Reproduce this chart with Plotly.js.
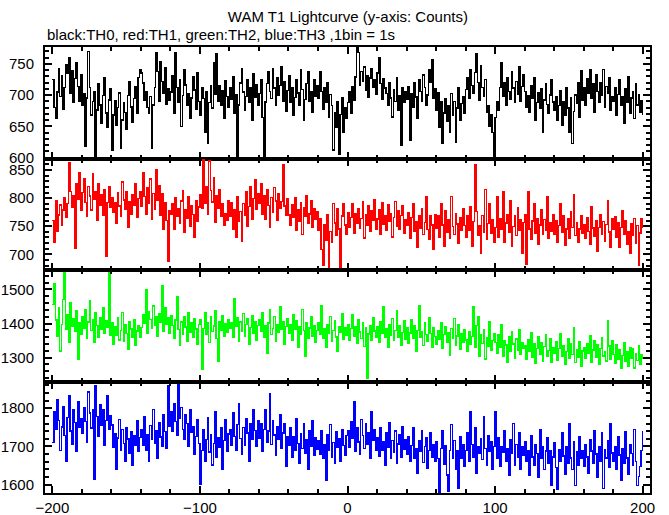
<!DOCTYPE html>
<html>
<head>
<meta charset="utf-8">
<script src="https://cdn.plot.ly/plotly-3.0.1.min.js"></script>
<style>
html,body{margin:0;padding:0;background:#fff;}
#chart{width:669px;height:515px;}
#chart .scatterlayer path{shape-rendering:crispEdges;}
</style>
</head>
<body>
<div id="chart"></div>
<script>
const TITLE = "WAM T1 Lightcurve (y-axis: Counts)";
const SUBTITLE = "black:TH0, red:TH1, green:TH2, blue:TH3 ,1bin = 1s";
const T_START = -200; // seconds, 1 bin = 1 s

const th0 = [
725,680,662,705,742,698,731,677,712,748,735,760,702,739,688,726,751,714,690,733,
683,702,618,695,770,712,668,690,705,602,676,718,684,655,699,727,671,648,692,710,
612,668,691,652,680,703,614,660,688,672,645,699,722,681,657,694,713,670,728,741,
735,719,692,706,680,671,698,615,684,712,768,738,690,754,722,703,744,685,710,692,
705,731,670,768,712,688,724,650,699,741,716,684,702,663,695,729,708,677,736,690,
668,712,694,641,705,622,688,715,679,752,701,766,690,715,684,707,662,723,698,680,
712,693,730,671,701,600,684,719,742,705,676,698,725,688,711,660,734,697,716,683,
702,725,664,602,689,718,737,706,694,742,711,683,728,699,715,746,690,722,674,707,
731,688,712,667,696,725,703,684,741,709,660,693,718,737,690,706,672,724,698,715,
694,738,706,677,712,689,720,665,701,683,612,672,648,690,605,669,695,641,680,662,
688,705,671,714,692,729,775,768,716,738,722,745,708,731,697,727,742,712,724,701,
735,760,718,693,726,711,702,684,720,695,665,708,690,727,676,699,620,712,688,705,
693,714,628,702,681,719,697,662,725,706,690,732,712,684,700,741,721,757,695,710,
676,703,648,689,622,671,694,658,683,640,702,667,690,625,679,712,660,686,698,671,
709,728,694,741,715,702,736,766,720,691,747,712,698,725,672,683,650,668,640,602,
664,690,675,712,752,698,719,684,727,706,693,738,711,688,722,701,745,690,714,732,
706,681,699,672,715,694,727,660,688,703,679,710,641,692,718,685,670,700,724,689,
675,698,660,683,707,652,690,668,712,679,641,695,622,674,700,686,720,664,739,692,
711,684,726,702,740,695,718,673,733,706,689,720,699,741,681,714,702,728,676,697,
690,712,668,701,725,683,697,654,710,688,730,671,695,706,662,718,684,700,673,691,668
];

const th1 = [
760,722,795,741,770,788,752,779,801,766,790,864,812,783,805,711,826,798,845,779,
810,835,792,768,821,804,779,843,798,812,760,825,787,806,770,815,697,792,820,783,
801,774,792,755,810,786,768,829,797,780,812,748,794,771,806,788,826,765,799,812,
785,845,803,772,818,790,834,762,808,781,850,797,822,770,808,745,791,760,688,778,
772,790,745,801,768,782,756,795,813,740,779,764,802,750,786,771,730,795,758,784,
806,782,868,790,820,771,866,814,793,836,757,805,782,815,768,790,752,773,760,795,
768,792,745,780,731,803,758,776,724,790,769,812,750,785,820,763,799,832,781,808,
790,826,772,805,763,815,787,748,801,774,819,795,760,808,782,794,860,786,770,799,
770,752,788,765,801,743,779,758,792,735,783,767,804,756,772,795,748,781,762,776,
742,763,708,680,752,725,770,676,741,722,790,756,733,781,745,677,768,790,752,735,
774,748,765,790,738,772,755,781,746,764,793,729,770,752,786,741,777,760,798,745,
763,779,736,792,754,768,742,788,759,773,731,765,794,750,777,744,769,786,738,761,
752,774,729,765,790,741,758,712,769,746,781,735,757,802,744,726,768,752,709,771,
746,768,731,790,752,715,777,740,761,728,803,749,735,772,754,719,766,742,782,751,
730,768,742,785,715,758,860,776,733,751,702,769,740,815,727,755,790,738,762,721,
748,802,731,764,745,812,722,756,771,739,795,714,750,768,733,783,743,761,701,757,
770,682,812,745,726,759,790,738,764,717,752,780,735,762,742,803,728,756,741,771,
736,760,722,751,790,739,768,716,745,763,729,775,748,806,733,757,722,745,769,738,
752,729,765,741,718,784,747,732,760,705,748,771,736,758,724,753,795,740,712,763,
744,767,730,756,712,748,778,735,760,718,741,702,755,733,764,720,751,680,738,763,746
];

const th2 = [
1455,1518,1410,1362,1445,1320,1398,1470,1548,1382,1425,1345,1460,1392,1415,1377,1438,1295,1402,1368,
1421,1387,1442,1356,1405,1468,1379,1412,1344,1431,1395,1360,1418,1384,1447,1372,1409,1390,1548,1365,
1402,1338,1391,1365,1417,1352,1380,1433,1348,1396,1371,1325,1405,1384,1359,1412,1336,1378,1395,1360,
1388,1425,1402,1498,1370,1436,1411,1385,1452,1394,1420,1363,1430,1405,1510,1377,1445,1398,1416,1372,
1424,1395,1356,1410,1478,1382,1337,1405,1368,1421,1390,1348,1432,1375,1401,1359,1415,1384,1340,1398,
1410,1265,1386,1432,1368,1401,1345,1420,1377,1393,1438,1356,1290,1405,1380,1424,1362,1399,1374,1412,
1385,1402,1360,1474,1392,1418,1347,1405,1376,1430,1362,1397,1415,1340,1388,1423,1371,1406,1352,1395,
1410,1378,1433,1359,1395,1312,1402,1441,1367,1386,1420,1348,1397,1375,1450,1383,1404,1338,1392,1415,
1370,1398,1352,1425,1384,1408,1330,1392,1367,1441,1379,1303,1401,1356,1387,1419,1362,1394,1345,1380,
1403,1368,1452,1357,1385,1330,1396,1372,1421,1349,1380,1407,1361,1318,1392,1374,1430,1355,1388,1366,
1398,1352,1385,1427,1364,1390,1341,1410,1375,1356,1402,1333,1387,1240,1369,1395,1350,1418,1378,1360,
1392,1346,1405,1371,1448,1359,1384,1329,1398,1366,1415,1352,1380,1437,1361,1395,1337,1374,1408,1353,
1388,1343,1372,1410,1356,1395,1319,1380,1452,1361,1376,1335,1401,1368,1347,1418,1370,1329,1387,1362,
1340,1378,1355,1402,1326,1368,1390,1344,1372,1308,1385,1357,1415,1336,1363,1398,1324,1370,1346,1381,
1352,1318,1376,1340,1362,1448,1331,1395,1420,1305,1367,1341,1382,1296,1358,1334,1405,1322,1350,1371,
1345,1312,1368,1329,1396,1304,1350,1337,1286,1362,1318,1375,1340,1298,1355,1322,1381,1309,1343,1327,
1336,1295,1352,1318,1374,1301,1340,1282,1327,1361,1310,1345,1290,1333,1368,1304,1321,1355,1287,1330,
1312,1348,1291,1327,1370,1303,1335,1280,1318,1356,1297,1342,1310,1388,1285,1323,1301,1346,1276,1320,
1330,1298,1341,1312,1365,1287,1322,1350,1300,1338,1279,1326,1358,1305,1318,1290,1408,1334,1296,1351,
1310,1282,1339,1295,1322,1268,1306,1345,1288,1318,1276,1330,1298,1325,1270,1312,1291,1334,1280,1308,1295
];

const th3 = [
1710,1790,1745,1822,1768,1690,1751,1803,1728,1660,1775,1832,1740,1706,1795,1762,1688,1818,1749,1772,
1735,1801,1765,1712,1842,1788,1748,1796,1614,1858,1779,1726,1810,1754,1795,1702,1768,1832,1744,1780,
1756,1698,1734,1640,1722,1771,1690,1745,1708,1662,1750,1719,1683,1738,1650,1729,1702,1767,1688,1724,
1745,1703,1778,1690,1732,1662,1755,1718,1796,1708,1742,1670,1761,1725,1700,1782,1739,1694,1858,1752,
1790,1740,1812,1765,1728,1861,1774,1802,1745,1718,1783,1760,1700,1795,1737,1752,1680,1726,1771,1708,
1600,1690,1745,1662,1718,1776,1685,1730,1651,1708,1792,1672,1724,1698,1750,1640,1715,1770,1686,1733,
1745,1702,1788,1726,1690,1758,1812,1721,1680,1749,1704,1772,1735,1662,1760,1718,1795,1741,1700,1768,
1722,1760,1688,1745,1795,1712,1740,1838,1705,1768,1730,1678,1752,1719,1784,1696,1735,1760,1648,1726,
1702,1748,1671,1725,1690,1772,1708,1655,1733,1695,1760,1682,1718,1641,1740,1700,1768,1676,1722,1693,
1715,1680,1742,1668,1705,1612,1730,1690,1758,1672,1710,1655,1738,1697,1720,1662,1745,1703,1678,1728,
1740,1698,1765,1722,1818,1686,1750,1712,1680,1771,1728,1695,1760,1705,1735,1668,1790,1716,1743,1690,
1722,1675,1748,1690,1712,1650,1735,1698,1762,1668,1715,1684,1740,1657,1706,1730,1672,1752,1693,1718,
1680,1725,1662,1702,1748,1670,1695,1630,1715,1686,1740,1658,1700,1722,1644,1690,1735,1672,1705,1660,
1712,1668,1580,1695,1740,1652,1702,1625,1582,1690,1758,1668,1715,1640,1688,1590,1725,1670,1705,1648,
1690,1735,1660,1790,1705,1672,1748,1630,1700,1682,1720,1665,1778,1695,1650,1728,1688,1712,1640,1700,
1792,1670,1722,1648,1700,1685,1740,1660,1695,1625,1718,1682,1760,1650,1705,1672,1735,1640,1698,1676,
1712,1660,1690,1625,1728,1672,1650,1705,1682,1618,1745,1668,1700,1640,1688,1722,1655,1690,1598,1672,
1710,1645,1588,1692,1660,1735,1675,1628,1700,1655,1760,1670,1640,1712,1598,1685,1650,1725,1668,1690,
1648,1705,1672,1630,1718,1688,1655,1742,1680,1620,1700,1662,1735,1590,1692,1670,1715,1645,1760,1683,
1662,1700,1640,1725,1678,1610,1695,1655,1738,1670,1628,1705,1682,1650,1745,1660,1598,1622,1648,1690,1740
];

const SERIES = [th0, th1, th2, th3];
const COLORS = ["#000000", "#ff0000", "#00ff00", "#0000ff"];
const NAMES = ["TH0", "TH1", "TH2", "TH3"];

const xs = s => s.map((_, i) => T_START + i);

const traces = SERIES.map((s, k) => ({
  x: xs(s), y: s, type: "scatter", mode: "lines", name: NAMES[k],
  line: {color: COLORS[k], width: 1.4, shape: "hv"},
  xaxis: k === 0 ? "x" : "x" + (k + 1),
  yaxis: k === 0 ? "y" : "y" + (k + 1),
  hoverinfo: "x+y"
}));

const FONT = {family: "Liberation Sans, Arial, sans-serif", size: 15, color: "#000"};
const TOP = 47, BOTTOM = 493;           // pixel rows of the plot area
const PH = 515, PW = 669;
const domains = [[0.75, 1], [0.5, 0.75], [0.25, 0.5], [0, 0.25]];
const yRanges = [[598.4, 776.8], [672, 870.6], [1230, 1557], [1578, 1870]];
const yMajor = [50, 50, 100, 100];
const yMinor = [10, 10, 20, 20];

const layout = {
  width: PW, height: PH,
  margin: {l: 45, r: 19, t: TOP, b: PH - BOTTOM, pad: 0},
  paper_bgcolor: "#fff", plot_bgcolor: "#fff",
  showlegend: false,
  font: FONT,
  title: {text: TITLE, x: 0.52, xanchor: "center", y: 1 - 17 / PH, yanchor: "middle",
          font: {family: FONT.family, size: 15, color: "#000"}},
  annotations: [{
    text: SUBTITLE, xref: "paper", yref: "paper", x: 0,
    y: (BOTTOM - 35) / (BOTTOM - TOP),
    xanchor: "left", yanchor: "middle", showarrow: false,
    font: {family: FONT.family, size: 15, color: "#000"}
  }]
};

for (let k = 0; k < 4; k++) {
  const xa = k === 0 ? "xaxis" : "xaxis" + (k + 1);
  const ya = k === 0 ? "yaxis" : "yaxis" + (k + 1);
  layout[xa] = {
    domain: [0, 1], range: [-205, 205], anchor: k === 0 ? "y" : "y" + (k + 1),
    showgrid: false, zeroline: false, showline: true, linecolor: "#000", linewidth: 2,
    mirror: "allticks", ticks: "inside", ticklen: 7, tickwidth: 2, tickcolor: "#000",
    tick0: 0, dtick: 100, showticklabels: k === 3, tickfont: FONT,
    minor: {ticks: "inside", dtick: 20, tick0: 0, ticklen: 4, tickwidth: 2, tickcolor: "#000", showgrid: false},
    automargin: false, fixedrange: true
  };
  layout[ya] = {
    domain: domains[k], range: yRanges[k], anchor: k === 0 ? "x" : "x" + (k + 1),
    showgrid: false, zeroline: false, showline: true, linecolor: "#000", linewidth: 2,
    mirror: "allticks", ticks: "inside", ticklen: 7, tickwidth: 2, tickcolor: "#000",
    tick0: 0, dtick: yMajor[k], tickfont: FONT, ticklabelstandoff: 6,
    minor: {ticks: "inside", dtick: yMinor[k], tick0: 0, ticklen: 4, tickwidth: 2, tickcolor: "#000", showgrid: false},
    automargin: false, fixedrange: true
  };
}

Plotly.newPlot("chart", traces, layout, {displayModeBar: false, staticPlot: true});
</script>
</body>
</html>
